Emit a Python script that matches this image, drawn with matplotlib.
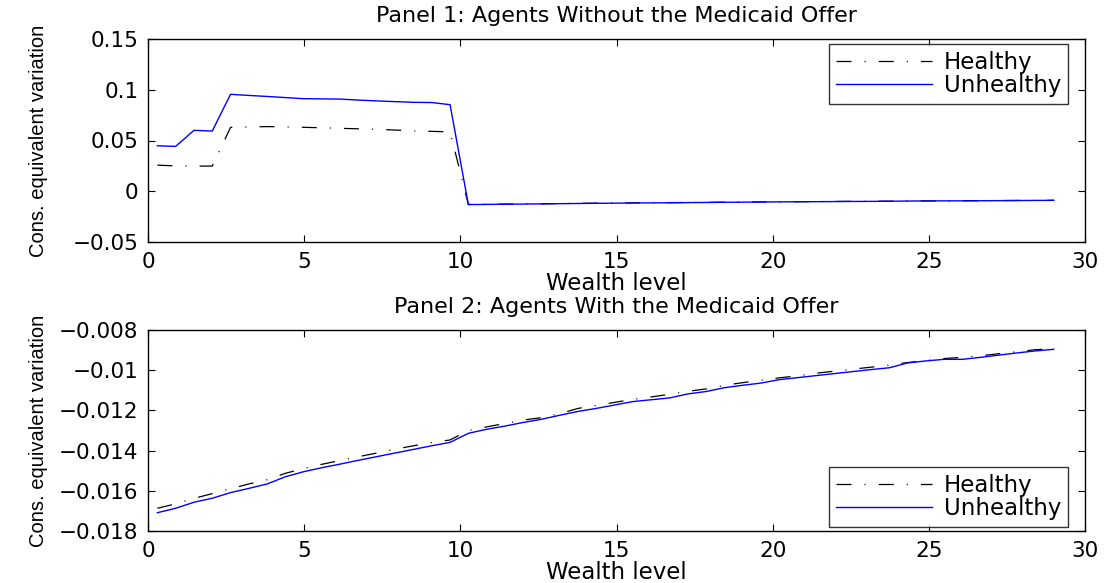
import numpy as np
import matplotlib
matplotlib.use("Agg")
import matplotlib.pyplot as plt
from matplotlib.ticker import FuncFormatter
from matplotlib import font_manager

wealth = np.linspace(0.3, 29.0, 50)

# Panel 2 (with Medicaid offer)
healthy_with = [
    -0.01687, -0.01665, -0.01638, -0.01614, -0.01590, -0.01566, -0.01545, -0.01513,
    -0.01489, -0.01468, -0.01449, -0.01430, -0.01412, -0.01393, -0.01376, -0.01360,
    -0.01347, -0.01300, -0.01282, -0.01265, -0.01248, -0.01236, -0.01216, -0.01190,
    -0.01175, -0.01160, -0.01145, -0.01133, -0.01120, -0.01105, -0.01093, -0.01075,
    -0.01062, -0.01050, -0.01038, -0.01028, -0.01015, -0.01005, -0.00995, -0.00985,
    -0.00975, -0.00962, -0.00952, -0.00942, -0.00936, -0.00928, -0.00918, -0.00908,
    -0.00898, -0.00893]
unhealthy_with = [
    -0.01709, -0.01687, -0.01657, -0.01637, -0.01609, -0.01588, -0.01566, -0.01530,
    -0.01505, -0.01485, -0.01467, -0.01448, -0.01430, -0.01412, -0.01394, -0.01376,
    -0.01359, -0.01314, -0.01294, -0.01278, -0.01260, -0.01244, -0.01224, -0.01205,
    -0.01190, -0.01173, -0.01156, -0.01147, -0.01138, -0.01118, -0.01106, -0.01087,
    -0.01075, -0.01064, -0.01047, -0.01037, -0.01027, -0.01017, -0.01007, -0.00997,
    -0.00988, -0.00964, -0.00954, -0.00946, -0.00946, -0.00936, -0.00925, -0.00914,
    -0.00904, -0.00896]

# Panel 1 (without Medicaid offer)
healthy_without = [
    0.0257, 0.0250, 0.0248, 0.0248, 0.0629, 0.0634, 0.0637, 0.0634, 0.0630, 0.0625,
    0.0620, 0.0615, 0.0610, 0.0603, 0.0595, 0.0590, 0.0585,
    -0.01300, -0.01282, -0.01265, -0.01248, -0.01236, -0.01216, -0.01190,
    -0.01175, -0.01160, -0.01145, -0.01133, -0.01120, -0.01105, -0.01093, -0.01075,
    -0.01062, -0.01050, -0.01038, -0.01028, -0.01015, -0.01005, -0.00995, -0.00985,
    -0.00975, -0.00962, -0.00952, -0.00942, -0.00936, -0.00928, -0.00918, -0.00908,
    -0.00898, -0.00893]
unhealthy_without = [
    0.0448, 0.0442, 0.0600, 0.0593, 0.0955, 0.0944, 0.0934, 0.0923, 0.0912, 0.0910,
    0.0908, 0.0898, 0.0890, 0.0883, 0.0876, 0.0874, 0.0853,
    -0.01314, -0.01294, -0.01278, -0.01260, -0.01244, -0.01224, -0.01205,
    -0.01190, -0.01173, -0.01156, -0.01147, -0.01138, -0.01118, -0.01106, -0.01087,
    -0.01075, -0.01064, -0.01047, -0.01037, -0.01027, -0.01017, -0.01007, -0.00997,
    -0.00988, -0.00964, -0.00954, -0.00946, -0.00946, -0.00936, -0.00925, -0.00914,
    -0.00904, -0.00896]

titles = ["Panel 1: Agents Without the Medicaid Offer",
          "Panel 2: Agents With the Medicaid Offer"]
xticks = [0, 5, 10, 15, 20, 25, 30]
yticks_top = [-0.05, 0, 0.05, 0.1, 0.15]
yticks_bot = [-0.018, -0.016, -0.014, -0.012, -0.01, -0.008]

plt.rcParams['font.family'] = ['DejaVu Sans']
plt.rcParams['lines.scale_dashes'] = False

# condensed face for the y label if available
names = {f.name for f in font_manager.fontManager.ttflist}
if 'Liberation Sans Narrow' in names:
    ylab_font, ylab_size = ['Liberation Sans Narrow', 'DejaVu Sans'], 16.5
else:
    ylab_font, ylab_size = ['Liberation Sans', 'DejaVu Sans'], 14.5

W, H = 1107, 583
fig = plt.figure(figsize=(W / 100, H / 100), dpi=100)
ax1 = fig.add_axes([148 / W, 1 - 242 / H, 937 / W, 203 / H])
ax2 = fig.add_axes([148 / W, 1 - 531 / H, 937 / W, 201 / H])

fmt = FuncFormatter(lambda v, p: ('%g' % v).replace('-', '\u2212'))
dash_pat = (10.8, 9.4, 0.8, 9.4)

def style(ax, yticks, ylim, title, leg_anchor, legloc):
    ax.set_xlim(0, 30)
    ax.set_ylim(*ylim)
    ax.set_xticks(xticks)
    ax.set_yticks(yticks)
    ax.yaxis.set_major_formatter(fmt)
    ax.tick_params(direction='in', top=True, right=True, labelsize=15.5,
                   length=5, width=0.8)
    ax.tick_params(axis='x', pad=7)
    ax.tick_params(axis='y', pad=7)
    for s in ax.spines.values():
        s.set_linewidth(1.0)
    ax.set_title(title, fontsize=16, pad=12)
    ax.set_xlabel("Wealth level", fontsize=16.5, labelpad=0)
    ax.set_ylabel("Cons. equivalent variation", fontsize=ylab_size, family=ylab_font)
    ax.yaxis.set_label_coords((48 - 148) / 937, 0.5)
    leg = ax.legend(loc=legloc, bbox_to_anchor=leg_anchor, bbox_transform=fig.transFigure,
                    fontsize=16.5, frameon=True, fancybox=False, edgecolor='black',
                    borderpad=0.3, labelspacing=0.02, handlelength=4.2,
                    handletextpad=0.5, borderaxespad=0)
    leg.get_frame().set_linewidth(1.0)

ax1.plot(wealth, healthy_without, color='black', lw=0.9, dashes=dash_pat, label='Healthy')
ax1.plot(wealth, unhealthy_without, color='blue', lw=1.0, label='Unhealthy')
style(ax1, yticks_top, (-0.05, 0.15), titles[0], (1068 / W, 1 - 44 / H), 'upper right')

ax2.plot(wealth, healthy_with, color='black', lw=0.9, dashes=dash_pat, label='Healthy')
ax2.plot(wealth, unhealthy_with, color='blue', lw=1.0, label='Unhealthy')
style(ax2, yticks_bot, (-0.018, -0.008), titles[1], (1068 / W, 1 - 527 / H), 'lower right')

fig.savefig("out.png", dpi=100)
